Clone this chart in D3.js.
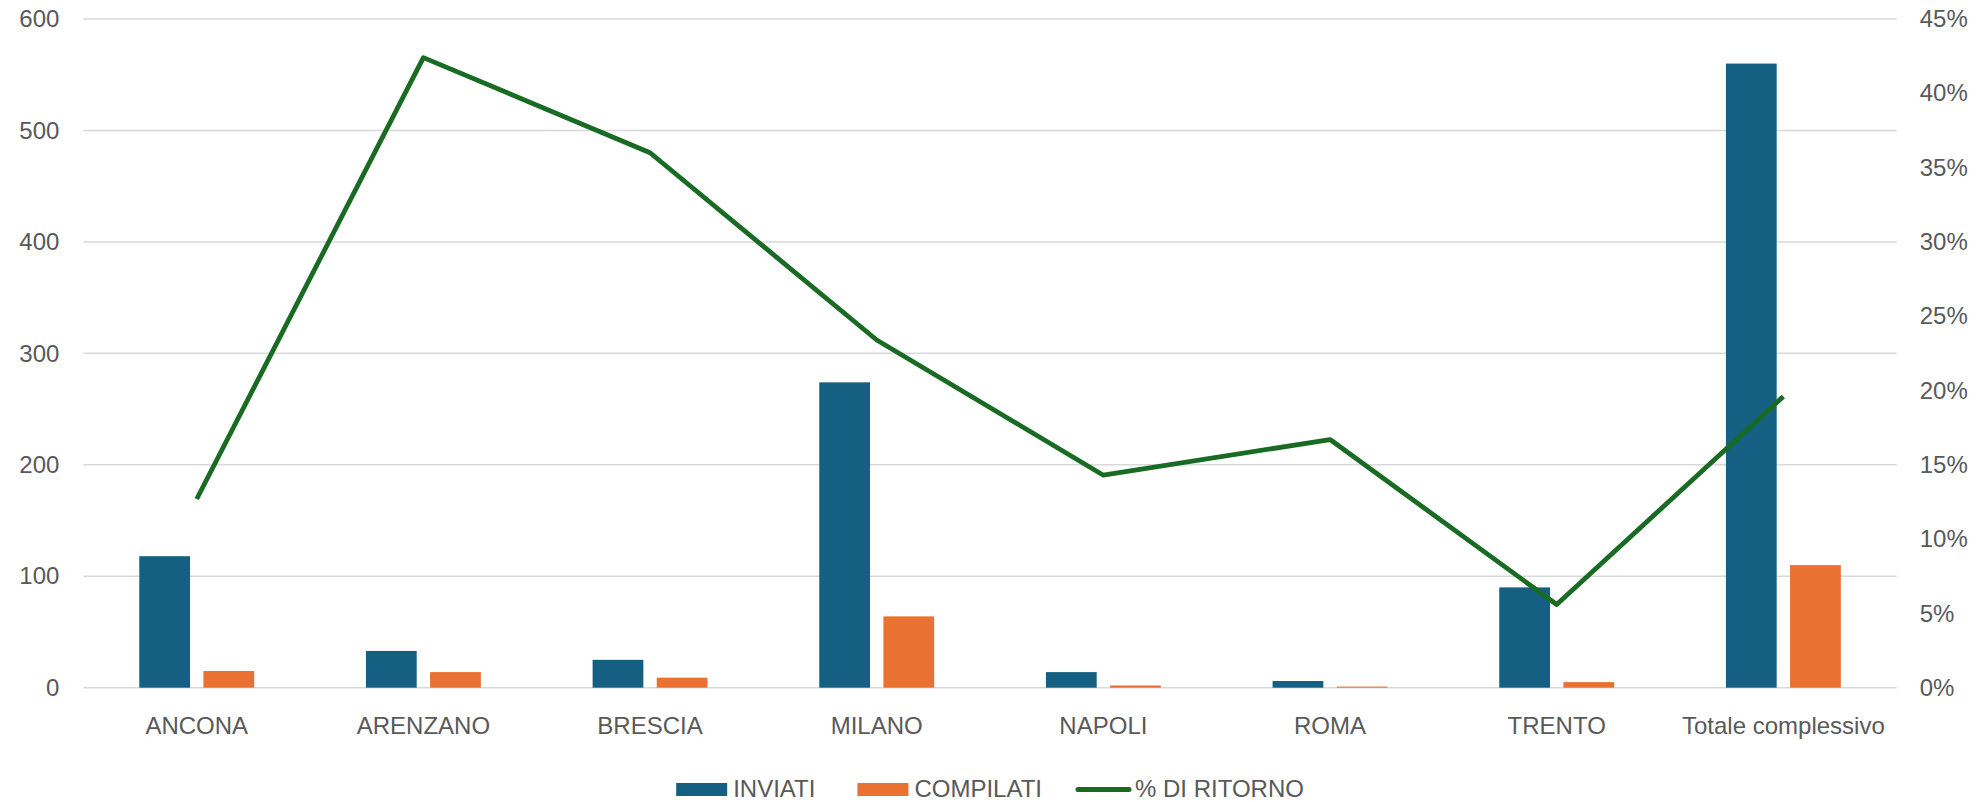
<!DOCTYPE html>
<html>
<head>
<meta charset="utf-8">
<script src="https://cdn.jsdelivr.net/npm/d3@7"></script>
<style>
  body { margin: 0; background: #fff; }
  text { font-family: "Liberation Sans", Arial, sans-serif; fill: #595959; }
</style>
</head>
<body>
<div id="chart"></div>
<script>
var width = 1982, height = 802;

var sedi = ["ANCONA", "ARENZANO", "BRESCIA", "MILANO", "NAPOLI", "ROMA", "TRENTO", "Totale complessivo"];
var inviati = [118, 33, 25, 274, 14, 6, 90, 560];
var compilati = [15, 14, 9, 64, 2, 1, 5, 110];
var ritorno = [0.127, 0.424, 0.36, 0.234, 0.143, 0.167, 0.056, 0.196];

var leftTicks = [0, 100, 200, 300, 400, 500, 600];
var rightTicks = [0, 0.05, 0.10, 0.15, 0.20, 0.25, 0.30, 0.35, 0.40, 0.45];
var serieNomi = ["INVIATI", "COMPILATI", "% DI RITORNO"];
var colori = ["#156082", "#e97132", "#196b24"];

var margin = {left: 83.4, right: 1896.7, top: 19, bottom: 687.7};

var svg = d3.select('#chart').append('svg')
	.attr('width', width)
	.attr('height', height);

var x = d3.scaleBand().domain(sedi).range([margin.left, margin.right]).padding(0);
var y = d3.scaleLinear().domain([0, 600]).range([margin.bottom, margin.top]);
var y2 = d3.scaleLinear().domain([0, 0.45]).range([margin.bottom, margin.top]);

var barW = x.bandwidth() * 0.224;
var barGap = x.bandwidth() * 0.059;

// gridlines
svg.append('g').selectAll('line')
	.data(leftTicks)
	.enter().append('line')
	.attr('x1', margin.left).attr('x2', margin.right)
	.attr('y1', function(d) { return y(d); })
	.attr('y2', function(d) { return y(d); })
	.style('stroke', '#d9d9d9')
	.style('stroke-width', 1.5);

// left axis
var leftAxis = svg.append('g')
	.attr('transform', 'translate(' + (margin.left - 24) + ',0)')
	.call(d3.axisLeft(y).tickValues(leftTicks).tickSize(0).tickPadding(0));
leftAxis.select('.domain').remove();
leftAxis.selectAll('text').style('font-size', '24px').style('fill', '#595959')
	.style('font-family', '"Liberation Sans", Arial, sans-serif');

// right axis
var rightAxis = svg.append('g')
	.attr('transform', 'translate(' + (margin.right + 23) + ',0)')
	.call(d3.axisRight(y2).tickValues(rightTicks).tickSize(0).tickPadding(0)
		.tickFormat(d3.format('.0%')));
rightAxis.select('.domain').remove();
rightAxis.selectAll('text').style('font-size', '24px').style('fill', '#595959')
	.style('font-family', '"Liberation Sans", Arial, sans-serif');

// bars
svg.append('g').selectAll('rect')
	.data(inviati)
	.enter().append('rect')
	.attr('x', function(d, i) { return x(sedi[i]) + x.bandwidth() / 2 - barGap / 2 - barW; })
	.attr('y', function(d) { return y(d); })
	.attr('width', barW)
	.attr('height', function(d) { return y(0) - y(d); })
	.style('fill', colori[0]);

svg.append('g').selectAll('rect')
	.data(compilati)
	.enter().append('rect')
	.attr('x', function(d, i) { return x(sedi[i]) + x.bandwidth() / 2 + barGap / 2; })
	.attr('y', function(d) { return y(d); })
	.attr('width', barW)
	.attr('height', function(d) { return y(0) - y(d); })
	.style('fill', colori[1]);

// line
var line = d3.line()
	.x(function(d, i) { return x(sedi[i]) + x.bandwidth() / 2; })
	.y(function(d) { return y2(d); });

svg.append('path')
	.datum(ritorno)
	.attr('d', line)
	.style('fill', 'none')
	.style('stroke', colori[2])
	.style('stroke-width', 4.8)
	.style('stroke-linejoin', 'round');

// category labels
svg.append('g').selectAll('text')
	.data(sedi)
	.enter().append('text')
	.attr('x', function(d) { return x(d) + x.bandwidth() / 2; })
	.attr('y', 734)
	.attr('text-anchor', 'middle')
	.style('font-size', '24px')
	.text(function(d) { return d; });

// legend
var legend = svg.append('g');
var pos = 0;
var gaps = [42, 33, 0];
serieNomi.forEach(function(nome, i) {
	var item = legend.append('g').attr('transform', 'translate(' + pos + ',0)');
	if (i < 2) {
		item.append('rect')
			.attr('x', 0).attr('y', 783)
			.attr('width', 51).attr('height', 13)
			.style('fill', colori[i]);
	} else {
		item.append('line')
			.attr('x1', 3).attr('x2', 54)
			.attr('y1', 789.5).attr('y2', 789.5)
			.style('stroke', colori[i])
			.style('stroke-width', 5)
			.style('stroke-linecap', 'round');
	}
	var t = item.append('text')
		.attr('x', i < 2 ? 57 : 60)
		.attr('y', 797)
		.style('font-size', '24px')
		.text(nome);
	pos += (i < 2 ? 57 : 60) + t.node().getComputedTextLength() + gaps[i];
});
var lw = legend.node().getBBox().width;
legend.attr('transform', 'translate(' + ((margin.left + margin.right) / 2 - lw / 2) + ',0)');
</script>
</body>
</html>
